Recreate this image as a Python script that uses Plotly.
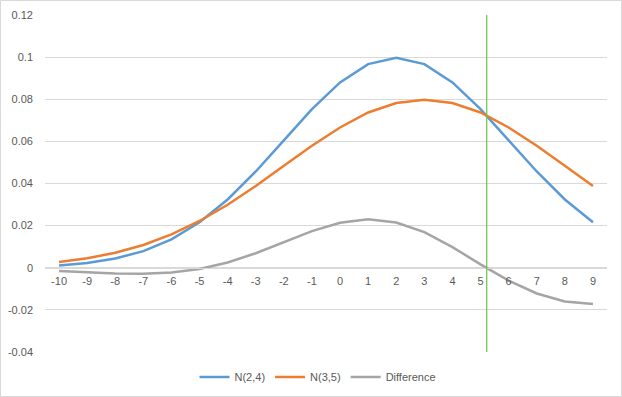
import plotly.graph_objects as go

x_vals = [-10, -9, -8, -7, -6, -5, -4, -3, -2, -1, 0, 1, 2, 3, 4, 5, 6, 7, 8, 9]
x_labels = ["-10", "-9", "-8", "-7", "-6", "-5", "-4", "-3", "-2", "-1",
            "0", "1", "2", "3", "4", "5", "6", "7", "8", "9"]
n24 = [0.0011, 0.0023, 0.0044, 0.0079, 0.0135, 0.0216, 0.0324, 0.0457, 0.0605, 0.0753,
       0.0880, 0.0967, 0.0997, 0.0967, 0.0880, 0.0753, 0.0605, 0.0457, 0.0324, 0.0216]
n35 = [0.0027, 0.0045, 0.0071, 0.0108, 0.0158, 0.0222, 0.0299, 0.0388, 0.0484, 0.0579,
       0.0666, 0.0737, 0.0782, 0.0798, 0.0782, 0.0737, 0.0666, 0.0579, 0.0484, 0.0388]
diff = [-0.0016, -0.0022, -0.0027, -0.0029, -0.0023, -0.0006, 0.0025, 0.0069, 0.0121, 0.0174,
        0.0214, 0.0230, 0.0215, 0.0169, 0.0098, 0.0016, -0.0061, -0.0122, -0.0160, -0.0172]
y_ticks = [-0.04, -0.02, 0, 0.02, 0.04, 0.06, 0.08, 0.1, 0.12]
y_labels = ["-0.04", "-0.02", "0", "0.02", "0.04", "0.06", "0.08", "0.1", "0.12"]
marker_x = 5.22

W, H = 622, 397
L, R, T, B = 45, 15, 15, 45
pw, ph = W - L - R, H - T - B

def px(xp):
    return (xp - L) / pw

def py(yp):
    return (H - B - yp) / ph

fig = go.Figure()
fig.add_trace(go.Scatter(x=x_vals, y=n24, mode="lines", name="N(2,4)",
                         line=dict(color="#5B9BD5", width=2.5)))
fig.add_trace(go.Scatter(x=x_vals, y=n35, mode="lines", name="N(3,5)",
                         line=dict(color="#ED7D31", width=2.5)))
fig.add_trace(go.Scatter(x=x_vals, y=diff, mode="lines", name="Difference",
                         line=dict(color="#A5A5A5", width=2.5)))

fig.add_shape(type="line", xref="x", yref="y", x0=marker_x, x1=marker_x,
              y0=-0.04, y1=0.12, line=dict(color="#6CC04A", width=1.2), layer="above")
fig.add_shape(type="rect", xref="paper", yref="paper",
              x0=px(0.5), x1=px(621.5), y0=py(396.5), y1=py(0.5),
              line=dict(color="#D9D9D9", width=1), layer="below")

fig.update_layout(
    width=W, height=H,
    margin=dict(l=L, r=R, t=T, b=B, autoexpand=False),
    paper_bgcolor="white", plot_bgcolor="white",
    font=dict(family="Liberation Sans, Arial, sans-serif", size=11, color="#595959"),
    showlegend=True,
    legend=dict(orientation="h", x=px(318), xanchor="center", y=py(377), yanchor="middle",
                font=dict(size=11, color="#595959"), itemwidth=30),
    xaxis=dict(range=[-10.5, 9.5], tickvals=x_vals, ticktext=x_labels,
               showgrid=False, zeroline=False, showline=True, linecolor="#D9D9D9",
               anchor="free", position=0.25, ticks="outside", ticklen=3,
               tickcolor="rgba(0,0,0,0)", fixedrange=True, automargin=False),
    yaxis=dict(range=[-0.04, 0.12], tickvals=y_ticks, ticktext=y_labels,
               showgrid=True, gridcolor="#D9D9D9", gridwidth=1, zeroline=False,
               showline=False, ticklabelstandoff=11, automargin=False),
)

fig.write_html("out.html", config={"displayModeBar": False},
               post_script="document.body.style.margin='0px';document.body.style.overflow='hidden';")
